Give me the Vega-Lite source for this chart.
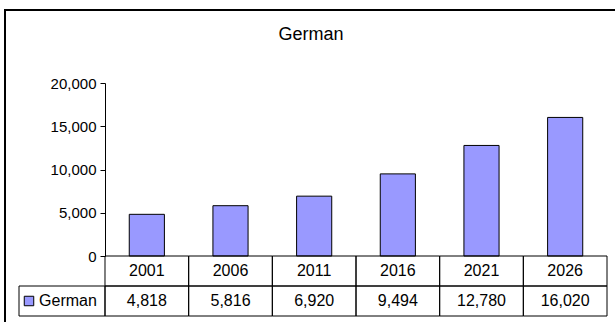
{
  "$schema": "https://vega.github.io/schema/vega-lite/v6.json",
  "autosize": {"type": "none"},
  "padding": {"left": 5, "top": 10, "right": -2, "bottom": -2},
  "width": 612,
  "height": 314,
  "background": "white",
  "config": {
    "view": {"stroke": "#000000", "strokeWidth": 2},
    "font": "Liberation Sans",
    "text": {"font": "Liberation Sans", "fontSize": 16, "color": "#000000"}
  },
  "title": {"text": "German", "offset": -34, "fontSize": 18, "font": "Liberation Sans", "fontWeight": "normal", "color": "#000000", "anchor": "middle"},
  "data": {"values": [
    {"year": "2001", "value": 4818},
    {"year": "2006", "value": 5816},
    {"year": "2011", "value": 6920},
    {"year": "2016", "value": 9494},
    {"year": "2021", "value": 12780},
    {"year": "2026", "value": 16020}
  ]},
  "resolve": {"scale": {"x": "independent", "y": "independent"}, "axis": {"x": "independent", "y": "independent"}},
  "layer": [
    {
      "mark": {"type": "bar", "fill": "#9999FF", "stroke": "#000000", "strokeWidth": 1, "width": {"band": 0.42}},
      "encoding": {
        "x": {"field": "year", "type": "nominal", "axis": null, "scale": {"domain": ["2001","2006","2011","2016","2021","2026"], "range": [100, 602], "paddingInner": 0, "paddingOuter": 0}},
        "y": {"field": "value", "type": "quantitative", "scale": {"domain": [0, 20000], "range": [246, 73], "nice": false},
          "axis": {"offset": -100, "values": [0, 5000, 10000, 15000, 20000], "format": ",d", "title": null, "grid": false, "tickSize": 5, "labelPadding": 4, "domainColor": "#000000", "tickColor": "#000000", "labelColor": "#000000", "labelFont": "Liberation Sans", "labelFontSize": 15}}
      }
    },
    {
      "mark": {"type": "rect", "fill": "white", "fillOpacity": 0, "stroke": "#000000", "strokeWidth": 1},
      "encoding": {
        "x": {"field": "year", "type": "nominal", "axis": null, "scale": {"domain": ["2001","2006","2011","2016","2021","2026"], "range": [100, 602], "paddingInner": 0, "paddingOuter": 0}},
        "y": {"datum": "year", "type": "nominal", "axis": null, "scale": {"domain": ["year","value"], "range": [246, 306], "paddingInner": 0, "paddingOuter": 0}}
      }
    },
    {
      "mark": {"type": "rect", "fill": "white", "fillOpacity": 0, "stroke": "#000000", "strokeWidth": 1},
      "encoding": {
        "x": {"field": "year", "type": "nominal", "axis": null, "scale": {"domain": ["2001","2006","2011","2016","2021","2026"], "range": [100, 602], "paddingInner": 0, "paddingOuter": 0}},
        "y": {"datum": "value", "type": "nominal", "axis": null, "scale": {"domain": ["year","value"], "range": [246, 306], "paddingInner": 0, "paddingOuter": 0}}
      }
    },
    {
      "mark": {"type": "text", "align": "center", "baseline": "middle"},
      "encoding": {
        "x": {"field": "year", "type": "nominal", "axis": null, "scale": {"domain": ["2001","2006","2011","2016","2021","2026"], "range": [100, 602], "paddingInner": 0, "paddingOuter": 0}},
        "y": {"datum": "year", "type": "nominal", "axis": null, "scale": {"domain": ["year","value"], "range": [246, 306], "paddingInner": 0, "paddingOuter": 0}},
        "text": {"field": "year", "type": "nominal"}
      }
    },
    {
      "mark": {"type": "text", "align": "center", "baseline": "middle"},
      "encoding": {
        "x": {"field": "year", "type": "nominal", "axis": null, "scale": {"domain": ["2001","2006","2011","2016","2021","2026"], "range": [100, 602], "paddingInner": 0, "paddingOuter": 0}},
        "y": {"datum": "value", "type": "nominal", "axis": null, "scale": {"domain": ["year","value"], "range": [246, 306], "paddingInner": 0, "paddingOuter": 0}},
        "text": {"field": "value", "type": "quantitative", "format": ",d"}
      }
    },
    {
      "data": {"values": [{"series": "German"}]},
      "layer": [
        {
          "mark": {"type": "rect", "fill": "white", "fillOpacity": 0, "stroke": "#000000", "strokeWidth": 1},
          "encoding": {
            "x": {"field": "series", "type": "nominal", "axis": null, "scale": {"domain": ["German"], "range": [14, 100], "paddingInner": 0, "paddingOuter": 0}},
            "y": {"datum": "value", "type": "nominal", "axis": null, "scale": {"domain": ["year","value"], "range": [246, 306], "paddingInner": 0, "paddingOuter": 0}}
          }
        },
        {
          "mark": {"type": "point", "shape": "square", "filled": true, "fill": "#9999FF", "stroke": "#000000", "strokeWidth": 1, "opacity": 1, "size": 90, "xOffset": -33},
          "encoding": {
            "x": {"field": "series", "type": "nominal", "axis": null, "scale": {"domain": ["German"], "range": [14, 100], "paddingInner": 0, "paddingOuter": 0}},
            "y": {"datum": "value", "type": "nominal", "axis": null, "scale": {"domain": ["year","value"], "range": [246, 306], "paddingInner": 0, "paddingOuter": 0}}
          }
        },
        {
          "mark": {"type": "text", "align": "center", "baseline": "middle", "dx": 6},
          "encoding": {
            "x": {"field": "series", "type": "nominal", "axis": null, "scale": {"domain": ["German"], "range": [14, 100], "paddingInner": 0, "paddingOuter": 0}},
            "y": {"datum": "value", "type": "nominal", "axis": null, "scale": {"domain": ["year","value"], "range": [246, 306], "paddingInner": 0, "paddingOuter": 0}},
            "text": {"field": "series", "type": "nominal"}
          }
        }
      ]
    }
  ]
}
